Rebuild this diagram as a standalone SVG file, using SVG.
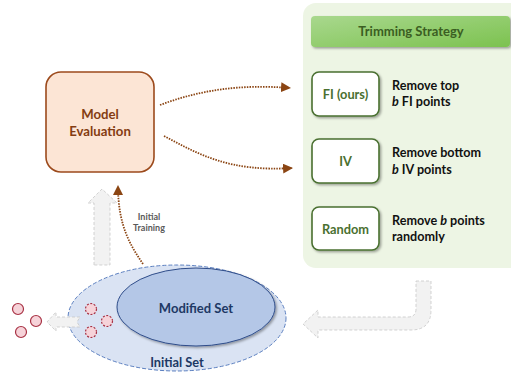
<svg xmlns="http://www.w3.org/2000/svg" width="511" height="372" viewBox="0 0 511 372">
<defs>
<linearGradient id="hdr" x1="0" y1="0" x2="1" y2="1">
<stop offset="0" stop-color="#a9d88e"/>
<stop offset="1" stop-color="#7cc24f"/>
</linearGradient>
<filter id="sh" x="-20%" y="-20%" width="150%" height="150%">
<feDropShadow dx="1.5" dy="1.5" stdDeviation="1.2" flood-color="#000" flood-opacity="0.35"/>
</filter>
<marker id="ah" viewBox="0 0 10 10" refX="9" refY="5" markerWidth="10" markerHeight="10" markerUnits="userSpaceOnUse" orient="auto">
<path d="M0,0 L10,5 L0,10 Z" fill="#8b4513"/>
</marker>
<style>
text{font-family:Lato,"Open Sans","Liberation Sans",sans-serif;font-weight:bold}
.opt{fill:#fff;stroke:#4a7030;stroke-width:1.6}
.optt{font-size:12.8px;fill:#4a7030;text-anchor:middle}
.desc{font-size:12.6px;fill:#111}
.dot{fill:none;stroke:#8b4513;stroke-width:1.8;stroke-dasharray:1.5 1.2}
.blk{fill:#f2f2f2;stroke:#c8c8c8;stroke-width:0.8;stroke-dasharray:3 2}
.pt{fill:#f6d3d9;stroke:#a83244;stroke-width:1.2}
.ptd{fill:#f6d3d9;stroke:#a83244;stroke-width:1.2;stroke-dasharray:2 1.5}
</style>
</defs>
<rect width="511" height="372" fill="#fff"/>

<g id="strategy-panel">
<rect x="303" y="3" width="222" height="265" rx="13" fill="#edf5e4"/>
<rect x="311" y="16" width="199" height="31" rx="4" fill="url(#hdr)" filter="url(#sh)"/>
<text x="411" y="36" font-size="13" fill="#3b5e22" text-anchor="middle">Trimming Strategy</text>
</g>

<g id="fi">
<rect class="opt" x="312" y="72" width="67" height="44" rx="7" filter="url(#sh)"/>
<text class="optt" x="345.5" y="98.5">FI (ours)</text>
</g>
<g id="fi-desc">
<text class="desc" x="392" y="90">Remove top</text>
<text class="desc" x="392" y="106"><tspan font-style="italic">b</tspan> FI points</text>
</g>
<g id="iv">
<rect class="opt" x="312" y="139" width="67" height="44" rx="7" filter="url(#sh)"/>
<text class="optt" x="345.5" y="166">IV</text>
</g>
<g id="iv-desc">
<text class="desc" x="392" y="157">Remove bottom</text>
<text class="desc" x="392" y="174"><tspan font-style="italic">b</tspan> IV points</text>
</g>
<g id="random">
<rect class="opt" x="312" y="207" width="67" height="43" rx="7" filter="url(#sh)"/>
<text class="optt" x="345.5" y="233.5">Random</text>
</g>
<g id="random-desc">
<text class="desc" x="392" y="225">Remove <tspan font-style="italic">b</tspan> points</text>
<text class="desc" x="392" y="241">randomly</text>
</g>

<g id="model-evaluation">
<rect x="46" y="72" width="108" height="100" rx="15" fill="#fce5d5" stroke="#9c4a1c" stroke-width="1.6"/>
<text x="100" y="119" font-size="13.2" fill="#843c12" text-anchor="middle">Model</text>
<text x="100" y="136" font-size="13.2" fill="#843c12" text-anchor="middle">Evaluation</text>
</g>

<g id="initial-set">
<ellipse cx="177" cy="318" rx="109" ry="53" fill="#dae3f3" stroke="#5b7fc0" stroke-width="1" stroke-dasharray="4 2"/>
<text x="177" y="367" font-size="12.8" fill="#203864" text-anchor="middle">Initial Set</text>
</g>
<g id="modified-set">
<ellipse cx="196" cy="307" rx="79" ry="39" fill="#b4c7e7" stroke="#2f4d8a" stroke-width="1" filter="url(#sh)"/>
<text x="196" y="313" font-size="13" fill="#203864" text-anchor="middle">Modified Set</text>
</g>

<g id="removed-points">
<circle class="pt" cx="18" cy="309" r="5.5"/>
<circle class="pt" cx="36" cy="321" r="5.5"/>
<circle class="pt" cx="21" cy="332" r="5.5"/>
</g>
<g id="candidate-points">
<circle class="ptd" cx="91" cy="309" r="5.5"/>
<circle class="ptd" cx="107" cy="321" r="5.5"/>
<circle class="ptd" cx="91" cy="332" r="5.5"/>
</g>

<g id="connectors">
<path class="dot" d="M160,105 C200,90 240,84 290,88" marker-end="url(#ah)"/>
<path class="dot" d="M164,136 C200,155 230,172 292,168" marker-end="url(#ah)"/>
<path class="dot" d="M143,264 C130,245 118,225 118,186" marker-end="url(#ah)"/>
<text x="149" y="220" font-size="9" fill="#5a5a5a" text-anchor="middle">Initial</text>
<text x="149" y="231" font-size="9" fill="#5a5a5a" text-anchor="middle">Training</text>
<path class="blk" d="M94,265 L94,203 L88,203 L102,189 L117,203 L110,203 L110,265 Z"/>
<path class="blk" d="M80,317 L56,317 L56,312 L47,322 L56,331 L56,327 L80,327 L77,322 Z"/>
<path class="blk" d="M416,281 L431,281 L431,310 Q431,330 411,330 L318,330 L318,338 L303,324 L318,310 L318,317 L408,317 Q416,317 416,309 Z"/>
</g>
</svg>
